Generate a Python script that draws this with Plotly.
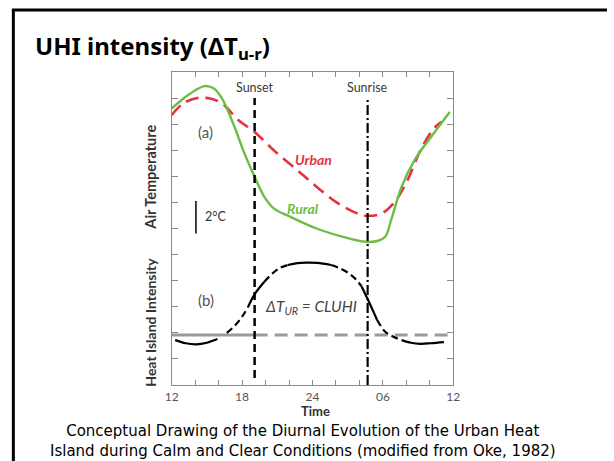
import plotly.graph_objects as go

# ---------------- data ----------------
# time in hours (12 = noon, 24 = midnight, 36 = next noon); y in arbitrary tick units
RURAL_H = [12.0, 13.2, 14.2, 14.8, 15.6, 16.3, 17.3, 18.2, 19.07, 19.9, 20.7, 22.1,
           24.35, 26.6, 28.5, 29.6, 30.2, 30.7, 31.6, 32.7, 34.1, 35.7]
RURAL_T = [10.6, 11.05, 11.35, 11.46, 11.37, 10.98, 9.96, 8.88, 7.98, 7.21, 6.77, 6.45,
           6.0, 5.68, 5.49, 5.53, 5.68, 6.32, 7.6, 8.62, 9.51, 10.47]

URBAN_H = [12.0, 12.96, 14.35, 15.3, 16.3, 17.7, 19.07, 20.7, 22.7, 24.35, 26.0, 27.7,
           28.65, 29.9, 31.0, 32.1, 33.2, 34.35, 35.0]
URBAN_T = [10.34, 10.79, 11.02, 10.98, 10.79, 10.15, 9.7, 9.0, 8.24, 7.6, 7.02, 6.6,
           6.49, 6.58, 7.02, 7.85, 9.0, 9.84, 10.09]

UHI_H = [12.3, 13.2, 14.1, 15.0, 15.9, 16.7, 17.4, 18.0, 18.5, 19.1, 19.9, 20.6, 21.2,
         21.9, 22.7, 23.5, 24.4, 25.6, 26.3, 27.1, 27.7, 28.2, 28.8, 29.5, 30.2, 30.9,
         31.6, 32.4, 33.2, 34.1, 35.2]
UHI_V = [1.72, 1.60, 1.56, 1.62, 1.76, 2.0, 2.28, 2.62, 2.98, 3.5, 3.96, 4.28, 4.48,
         4.6, 4.67, 4.69, 4.68, 4.6, 4.48, 4.28, 4.05, 3.77, 3.2, 2.5, 2.04, 1.85,
         1.72, 1.62, 1.58, 1.6, 1.64]
# (first index, last index, style) pieces of the UHI curve
UHI_SEGMENTS = [(0, 4, "solid"), (5, 8, "dash"), (8, 10, "solid"), (10, 13, "dash"),
                (13, 17, "solid"), (17, 21, "dash"), (21, 23, "solid"), (23, 26, "dash"),
                (26, 30, "solid")]

BASELINE = 1.92
SUNSET = 19.07
SUNRISE = 28.7
X_START, X_END = 12, 36
X_LABEL_TICKS = [12, 18, 24, 30, 36]
X_TICK_LABELS = ["12", "18", "24", "06", "12"]
X_MINOR_TICKS = list(range(12, 37, 2))
Y_TICKS = list(range(0, 13))
SCALE_BAR_H = 14.07
SCALE_BAR_V = [5.81, 7.05]

CAPTION = ["Conceptual Drawing of the Diurnal Evolution of the Urban Heat",
           "Island during Calm and Clear Conditions (modified from Oke, 1982)"]

W, H = 614, 461


def px(x):
    return x / W


def py(y):
    return 1 - y / H


GREEN = "#6cbd45"
RED = "#e6323e"
TXT = "#3a3a3a"
AXC = "#8a8a8a"
PLOT_FONT = "Lato"
SLIDE_FONT = "Noto Sans"
CAPTION_FONT = "DejaVu Sans"

fig = go.Figure()

# gray zero line of heat island intensity
fig.add_trace(go.Scatter(x=[X_START, SUNSET], y=[BASELINE, BASELINE], mode="lines",
                         line=dict(color="#9a9a9a", width=3), hoverinfo="skip"))
fig.add_trace(go.Scatter(x=[SUNSET, X_END], y=[BASELINE, BASELINE], mode="lines",
                         line=dict(color="#9a9a9a", width=3, dash="13px,7px"), hoverinfo="skip"))

# urban (dashed red) then rural (green)
fig.add_trace(go.Scatter(x=URBAN_H, y=URBAN_T, mode="lines",
                         line=dict(color=RED, width=2.6, dash="13px,7px", shape="spline", smoothing=1.0)))
fig.add_trace(go.Scatter(x=RURAL_H, y=RURAL_T, mode="lines",
                         line=dict(color=GREEN, width=2.4, shape="spline", smoothing=1.0)))

# UHI curve in pieces
for a, b, st in UHI_SEGMENTS:
    fig.add_trace(go.Scatter(x=UHI_H[a:b + 1], y=UHI_V[a:b + 1], mode="lines",
                             line=dict(color="black", width=2.2,
                                       dash="solid" if st == "solid" else "7px,4px",
                                       shape="spline", smoothing=1.0)))

# 2 degC scale bar
fig.add_trace(go.Scatter(x=[SCALE_BAR_H, SCALE_BAR_H], y=SCALE_BAR_V, mode="lines",
                         line=dict(color="black", width=1.5)))

shapes = [
    # sunset / sunrise lines
    dict(type="line", xref="x", yref="paper", x0=SUNSET, x1=SUNSET, y0=py(378), y1=py(98),
         line=dict(color="black", width=2.5, dash="8px,5px")),
    dict(type="line", xref="x", yref="paper", x0=SUNRISE, x1=SUNRISE, y0=py(385), y1=py(98),
         line=dict(color="black", width=2.2, dash="10px,3px,2px,3px")),
    # slide frame
    dict(type="line", xref="paper", yref="paper", x0=px(5), x1=px(614), y0=py(10), y1=py(10),
         line=dict(color="black", width=3)),
    dict(type="line", xref="paper", yref="paper", x0=px(6.5), x1=px(6.5), y0=py(10), y1=py(461),
         line=dict(color="black", width=3)),
]

ann = []


def A(text, x, y, size, color=TXT, family=PLOT_FONT, xanchor="center", angle=0,
      xref="paper", yref="paper", yanchor="middle"):
    ann.append(dict(text=text, x=x, y=y, xref=xref, yref=yref, showarrow=False,
                    font=dict(size=size, color=color, family=family), xanchor=xanchor,
                    yanchor=yanchor, textangle=angle))


A("<b>UHI intensity (ΔT<sub>u-r</sub>)</b>", px(27), py(47.5), 24, "black", SLIDE_FONT, "left")
A("Sunset", SUNSET, py(88), 12.5, xref="x")
A("Sunrise", SUNRISE, py(88), 12.5, xref="x")
A("(a)", px(203), py(131.7), 15, "#555555")
A("(b)", px(204), py(300), 15, "#555555")
A("<b><i>Urban</i></b>", px(313.5), py(159), 14, RED)
A("<b><i>Rural</i></b>", px(302.5), py(208.5), 14, GREEN)
A("<i>ΔT<sub>UR</sub> = CLUHI</i>", px(311.5), py(307), 15.5, "#444444")
A("2°C", px(213.5), py(216.5), 12.5, "#333333")
A("<b>Air Temperature</b>", px(146), py(177), 14.5, "#333333", angle=-90)
A("<b>Heat Island Intensity</b>", px(146), py(322), 14, "#333333", angle=-90)
A("<b>Time</b>", px(315.5), py(410.5), 13, "#333333")
A("<br>".join(CAPTION), px(303), py(462), 15, "black", CAPTION_FONT, yanchor="bottom")

fig.update_layout(
    width=W, height=H, margin=dict(l=0, r=0, t=0, b=0),
    paper_bgcolor="white", plot_bgcolor="white", showlegend=False,
    shapes=shapes, annotations=ann,
    xaxis=dict(domain=[px(168.5), px(456.7)], range=[X_START, X_END],
               tickmode="array", tickvals=X_LABEL_TICKS, ticktext=X_TICK_LABELS,
               ticks="inside", ticklen=5, tickcolor=AXC, tickwidth=1,
               minor=dict(tickmode="array", tickvals=X_MINOR_TICKS, ticks="inside",
                          ticklen=5, tickcolor=AXC, tickwidth=1, showgrid=False),
               showline=True, linecolor=AXC, linewidth=1.2, mirror="ticks",
               showgrid=False, zeroline=False,
               tickfont=dict(size=12, color="#555555", family=PLOT_FONT)),
    yaxis=dict(domain=[py(385), py(72)], range=[0, 12],
               tickmode="array", tickvals=Y_TICKS, showticklabels=False,
               ticks="inside", ticklen=6, tickcolor=AXC, tickwidth=1,
               showline=True, linecolor=AXC, linewidth=1.2, mirror="ticks",
               showgrid=False, zeroline=False),
)

fig.write_html("out.html")
